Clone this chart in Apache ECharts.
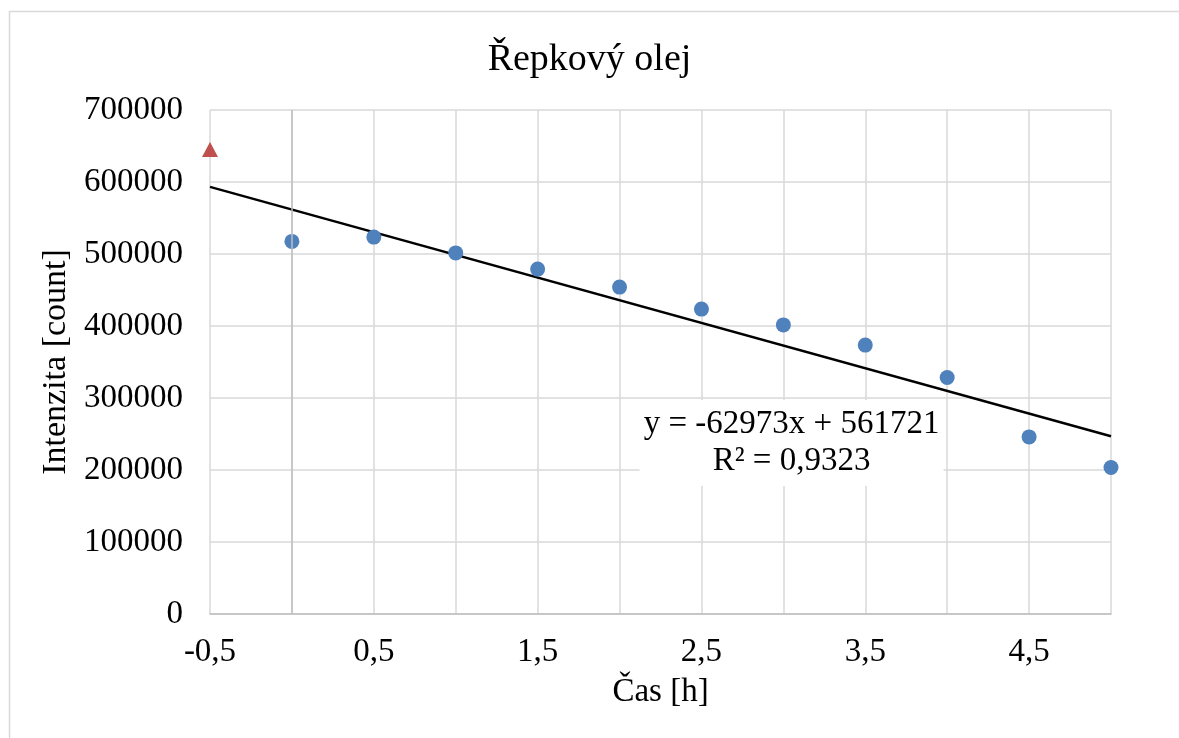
<!DOCTYPE html>
<html>
<head>
<meta charset="utf-8">
<script src="https://cdn.jsdelivr.net/npm/echarts@6/dist/echarts.min.js"></script>
<style>
html,body{margin:0;padding:0;background:#fff;}
#c{width:1179px;height:738px;}
</style>
</head>
<body>
<div id="c"></div>
<script>
// Data
var timeX = [0, 0.5, 1, 1.5, 2, 2.5, 3, 3.5, 4, 4.5, 5];
var intensity = [517500, 523500, 501500, 479000, 454000, 423500, 401500, 373500, 328500, 246000, 203500];
var outlierX = [-0.5];
var outlierY = [645000];
var trendX = [-0.5, 5];
var trendY = [593208, 246856];
var equationText = ['y = -62973x + 561721', 'R² = 0,9323'];
var titleText = 'Řepkový olej';
var xName = 'Čas [h]';
var yName = 'Intenzita [count]';

var font = 'Liberation Serif';
var chart = echarts.init(document.getElementById('c'), null, {renderer: 'canvas'});

function pairs(xs, ys) { return xs.map(function (x, i) { return [x, ys[i]]; }); }

chart.setOption({
  animation: false,
  backgroundColor: '#fff',
  title: {
    text: titleText, left: 'center', top: 36,
    textStyle: {fontFamily: font, fontSize: 38, fontWeight: 'normal', color: '#000'}
  },
  grid: {left: 210, top: 110, width: 901, height: 504, containLabel: false},
  graphic: [{
    type: 'rect', shape: {x: 9.5, y: 11.5, width: 1190, height: 760},
    style: {fill: null, stroke: '#d9d9d9', lineWidth: 1.5}, silent: true, z: -1
  }],
  xAxis: {
    type: 'value', min: -0.5, max: 5, interval: 0.5,
    name: xName, nameLocation: 'middle', nameGap: 62,
    nameTextStyle: {fontFamily: font, fontSize: 33, color: '#000'},
    axisLine: {show: true, onZero: false, lineStyle: {color: '#bfbfbf', width: 1.5}},
    axisTick: {show: false},
    axisLabel: {
      fontFamily: font, fontSize: 33, color: '#000', margin: 22,
      formatter: function (v) {
        var k = Math.round((v + 0.5) * 2);
        if (k % 2 !== 0) return '';
        return String(v).replace('.', ',');
      }
    },
    splitLine: {show: true, lineStyle: {color: '#d9d9d9', width: 1.5}}
  },
  yAxis: {
    type: 'value', min: 0, max: 700000, interval: 100000,
    name: yName, nameLocation: 'middle', nameGap: 120, nameRotate: 90,
    nameTextStyle: {fontFamily: font, fontSize: 34, color: '#000'},
    axisLine: {show: false},
    axisTick: {show: false},
    axisLabel: {fontFamily: font, fontSize: 33, color: '#000', margin: 27,
      formatter: function (v) { return String(v); }},
    splitLine: {show: true, lineStyle: {color: '#d9d9d9', width: 1.5}}
  },
  series: [
    {
      type: 'line', data: pairs(trendX, trendY), symbol: 'none', z: 3,
      lineStyle: {color: '#000', width: 2.4}, silent: true,
      markLine: {
        silent: true, symbol: 'none', label: {show: false},
        lineStyle: {color: '#bfbfbf', width: 1.5, type: 'solid'},
        data: [{xAxis: 0}]
      },
      markPoint: {
        silent: true, symbol: 'rect', symbolSize: [304, 86],
        itemStyle: {color: '#fff'},
        label: {
          show: true, position: 'inside', color: '#000',
          fontFamily: font, fontSize: 33, lineHeight: 37, align: 'center',
          formatter: equationText.join('\n')
        },
        data: [{coord: [3.05, 237500]}]
      }
    },
    {
      type: 'scatter', data: pairs(timeX, intensity), symbol: 'circle', symbolSize: 15, z: 4,
      itemStyle: {color: '#4f81bd', opacity: 1}
    },
    {
      type: 'scatter', data: pairs(outlierX, outlierY), symbol: 'triangle', symbolSize: [16, 15], z: 4,
      itemStyle: {color: '#c0504d', opacity: 1}
    }
  ]
});
</script>
</body>
</html>
